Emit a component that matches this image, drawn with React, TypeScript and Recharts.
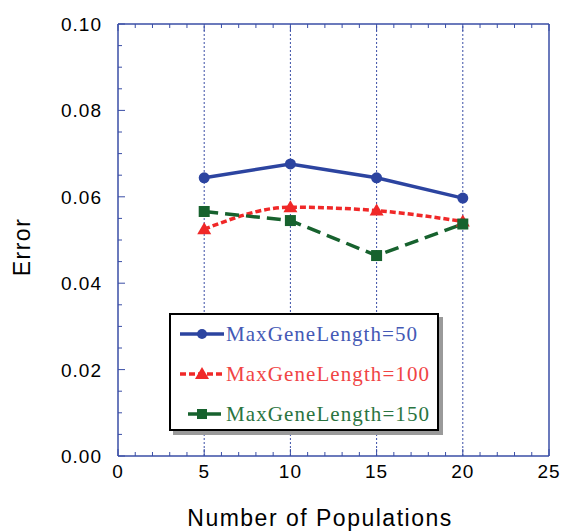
import { LineChart, Line, XAxis, YAxis, ReferenceLine } from "recharts";

// Error vs. number of populations for three gene-length limits
const populations = [5, 10, 15, 20];
const errGene50 = [0.0644, 0.0676, 0.0644, 0.0597];
const errGene100 = [0.0525, 0.0576, 0.0568, 0.0543];
const errGene150 = [0.0566, 0.0545, 0.0464, 0.0537];
const seriesNames = ["MaxGeneLength=50", "MaxGeneLength=100", "MaxGeneLength=150"];

const xMajor = [0, 5, 10, 15, 20, 25];
const yMajor = [0, 0.02, 0.04, 0.06, 0.08, 0.1];
const gridX = [5, 10, 15, 20];

// minor ticks: every 1 on x, every 0.005 on y
const xTickAll = Array.from({ length: 26 }, (_, i) => i);
const yTickAll = Array.from({ length: 21 }, (_, i) => Math.round(i * 5) / 1000);

const rows = populations.map((p, i) => ({
  pop: p,
  g50: errGene50[i],
  g100: errGene100[i],
  g150: errGene150[i],
}));

const AXIS = "#3a4ea6";
const BLUE = "#2c44a0";
const RED = "#f02828";
const GREEN = "#17622e";
const FONT = "'Liberation Sans', Arial, sans-serif";

const isMajorX = (v: number) => xMajor.includes(v);
const isMajorY = (v: number) => yMajor.some((m) => Math.abs(m - v) < 1e-9);

function BottomTick({ x, y, payload }: any) {
  const major = isMajorX(payload.value);
  return (
    <g>
      <line x1={x} x2={x} y1={y} y2={y - (major ? 7 : 4)} stroke={AXIS} strokeWidth={1} />
      {major && (
        <text x={x} y={y + 22} textAnchor="middle" fontSize={19} fontFamily={FONT} fill="#000" letterSpacing={1}>
          {payload.value}
        </text>
      )}
    </g>
  );
}

function TopTick({ x, y, payload }: any) {
  const major = isMajorX(payload.value);
  return <line x1={x} x2={x} y1={y} y2={y + (major ? 7 : 4)} stroke={AXIS} strokeWidth={1} />;
}

function LeftTick({ x, y, payload }: any) {
  const major = isMajorY(payload.value);
  return (
    <g>
      <line x1={x} x2={x + (major ? 7 : 4)} y1={y} y2={y} stroke={AXIS} strokeWidth={1} />
      {major && (
        <text x={x - 16} y={y + 7} textAnchor="end" fontSize={19} fontFamily={FONT} fill="#000" letterSpacing={1}>
          {payload.value.toFixed(2)}
        </text>
      )}
    </g>
  );
}

function RightTick({ x, y, payload }: any) {
  const major = isMajorY(payload.value);
  return <line x1={x} x2={x - (major ? 7 : 4)} y1={y} y2={y} stroke={AXIS} strokeWidth={1} />;
}

const CircleDot = ({ cx, cy }: any) => <circle cx={cx} cy={cy} r={5.5} fill={BLUE} />;
const TriangleDot = ({ cx, cy }: any) => (
  <path d={`M${cx},${cy - 7} L${cx + 7},${cy + 5} L${cx - 7},${cy + 5} Z`} fill={RED} />
);
const SquareDot = ({ cx, cy }: any) => <rect x={cx - 5.5} y={cy - 5.5} width={11} height={11} fill={GREEN} />;

function LegendBox() {
  const items = [
    { name: seriesNames[0], color: BLUE, text: "#4459b5", dash: undefined, marker: "circle", x1: 9, x2: 53 },
    { name: seriesNames[1], color: RED, text: "#f04444", dash: "6 3", marker: "triangle", x1: 9, x2: 53 },
    { name: seriesNames[2], color: GREEN, text: "#2a7440", dash: "14 5", marker: "square", x1: 17, x2: 51 },
  ];
  return (
    <div
      style={{
        position: "absolute",
        left: 169,
        top: 313,
        width: 266,
        height: 114,
        border: "2px solid #000",
        background: "#fff",
        boxShadow: "4px 4px 0 #9a9a9a",
      }}
    >
      <svg width={266} height={114} style={{ position: "absolute", left: 0, top: 0 }}>
        {items.map((it, i) => {
          const cy = 19 + i * 40;
          const mx = 31;
          return (
            <g key={it.name}>
              <line x1={it.x1} x2={it.x2} y1={cy} y2={cy} stroke={it.color} strokeWidth={3.5} strokeDasharray={it.dash} />
              {it.marker === "circle" && <circle cx={mx} cy={cy} r={5} fill={it.color} />}
              {it.marker === "triangle" && (
                <path d={`M${mx},${cy - 7} L${mx + 7},${cy + 5} L${mx - 7},${cy + 5} Z`} fill={it.color} />
              )}
              {it.marker === "square" && <rect x={mx - 5} y={cy - 5} width={10} height={10} fill={it.color} />}
              <text
                x={55}
                y={cy + 7}
                fontSize={21}
                fontFamily="'Liberation Serif', 'DejaVu Serif', serif"
                fill={it.text}
                textLength={it.name.length * 12 - 1}
                lengthAdjust="spacing"
              >
                {it.name}
              </text>
            </g>
          );
        })}
      </svg>
    </div>
  );
}

export default function App() {
  return (
    <div style={{ position: "absolute", left: 0, top: 0, width: 568, height: 531, background: "#fff" }}>
      <LineChart width={568} height={531} data={rows} margin={{ top: 23, right: 18, bottom: 45, left: 58 }}>
        {gridX.map((g) => (
          <ReferenceLine key={g} x={g} stroke={AXIS} strokeWidth={1} strokeDasharray="2 2" />
        ))}
        <XAxis
          dataKey="pop"
          type="number"
          domain={[0, 25]}
          ticks={xTickAll}
          interval={0}
          height={30}
          tickSize={0}
          tickMargin={0}
          tick={<BottomTick />}
          axisLine={{ stroke: AXIS, strokeWidth: 1.5 }}
          tickLine={false}
        />
        <XAxis
          xAxisId="top"
          orientation="top"
          dataKey="pop"
          type="number"
          domain={[0, 25]}
          ticks={xTickAll}
          interval={0}
          height={1}
          tickSize={0}
          tickMargin={0}
          tick={<TopTick />}
          axisLine={{ stroke: AXIS, strokeWidth: 1.5 }}
          tickLine={false}
        />
        <YAxis
          type="number"
          domain={[0, 0.1]}
          ticks={yTickAll}
          interval={0}
          width={60}
          tickSize={0}
          tickMargin={0}
          tick={<LeftTick />}
          axisLine={{ stroke: AXIS, strokeWidth: 1.5 }}
          tickLine={false}
        />
        <YAxis
          yAxisId="right"
          orientation="right"
          type="number"
          domain={[0, 0.1]}
          ticks={yTickAll}
          interval={0}
          width={1}
          tickSize={0}
          tickMargin={0}
          tick={<RightTick />}
          axisLine={{ stroke: AXIS, strokeWidth: 1.5 }}
          tickLine={false}
        />
        <Line
          dataKey="g50"
          name={seriesNames[0]}
          type="linear"
          stroke={BLUE}
          strokeWidth={3.5}
          dot={<CircleDot />}
          activeDot={false}
          isAnimationActive={false}
        />
        <Line
          dataKey="g100"
          name={seriesNames[1]}
          type="monotone"
          stroke={RED}
          strokeWidth={3.5}
          strokeDasharray="6 3"
          dot={<TriangleDot />}
          activeDot={false}
          isAnimationActive={false}
        />
        <Line
          dataKey="g150"
          name={seriesNames[2]}
          type="linear"
          stroke={GREEN}
          strokeWidth={3.5}
          strokeDasharray="14 7"
          dot={<SquareDot />}
          activeDot={false}
          isAnimationActive={false}
        />
      </LineChart>
      <LegendBox />
      <div
        style={{
          position: "absolute",
          left: 22,
          top: 247,
          transform: "translate(-50%, -50%) rotate(-90deg)",
          fontFamily: FONT,
          fontSize: 23,
          letterSpacing: 1.5,
          whiteSpace: "nowrap",
        }}
      >
        Error
      </div>
      <div
        style={{
          position: "absolute",
          left: 320,
          top: 518,
          transform: "translate(-50%, -50%)",
          fontFamily: FONT,
          fontSize: 23,
          letterSpacing: 1.5,
          whiteSpace: "nowrap",
        }}
      >
        Number of Populations
      </div>
    </div>
  );
}
